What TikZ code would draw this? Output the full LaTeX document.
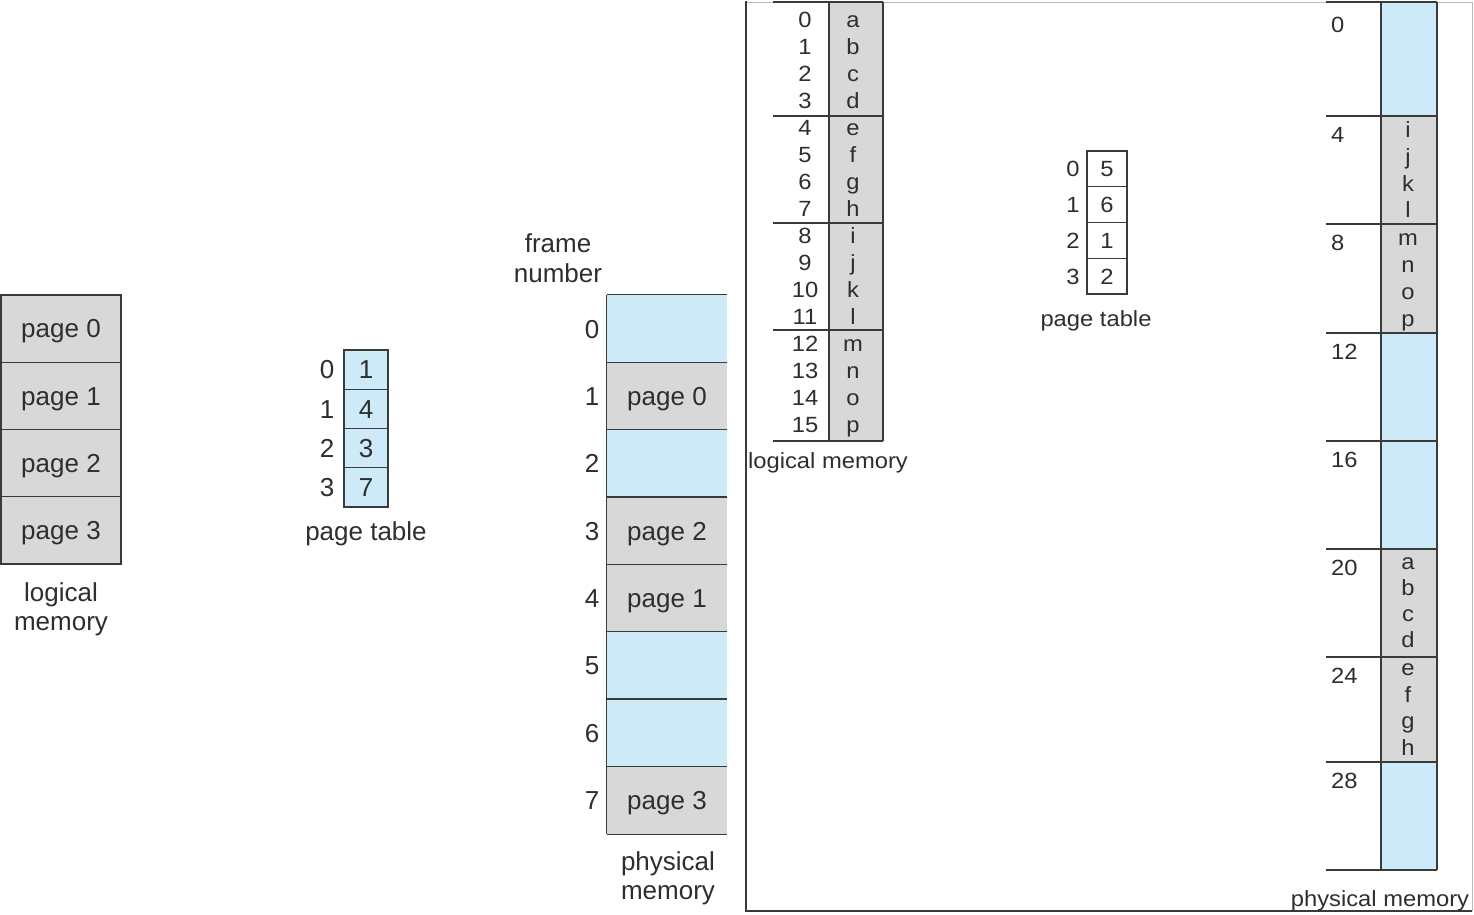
\documentclass[tikz,border=0pt]{standalone}
\usepackage{fontspec}
\setmainfont{Liberation Sans}
\newfontfamily\rfam[FakeStretch=1.08]{Liberation Sans}
\definecolor{gfill}{HTML}{D8D8D8}
\definecolor{bfill}{HTML}{CCEAF8}
\definecolor{lc}{HTML}{3A3A3A}
\definecolor{tc}{HTML}{2E2E2E}
\newcommand\lsz{\fontsize{26}{30}\selectfont}
\newcommand\rsz{\rfam\fontsize{22}{26}\selectfont}
\begin{document}
\begin{tikzpicture}[x=1pt,y=-1pt,
  lf/.style={font=\lsz,text height=18.6pt,text depth=0pt},
  rf/.style={font=\rsz,text height=15.75pt,text depth=0pt},
  cellbox/.style={draw=lc,line width=1.3pt,inner sep=0pt,text=tc},
  gcell/.style={cellbox,fill=gfill},
  bcell/.style={cellbox,fill=bfill},
  wcell/.style={cellbox,fill=white},
  labtxt/.style={inner sep=0pt,text=tc},
  captxt/.style={inner sep=0pt,text=tc,anchor=base},
  ruleln/.style={draw=lc,line width=1.3pt},
]
\useasboundingbox (0,0) rectangle (1474,914);
\fill[white] (0,0) rectangle (1474,914);

% ---------- left: logical memory ----------
\foreach \i/\t in {0/page 0,1/page 1,2/page 2,3/page 3}
  \node[gcell,lf,minimum width=120pt,minimum height=67.25pt] (lm\i) at (61,{328.6+67.25*\i}) {\t};
\node[captxt,font=\lsz] (lmcapa) at (61,601) {logical};
\node[captxt,font=\lsz] (lmcapb) at (61,630) {memory};

% ---------- left: page table ----------
\foreach \i/\v in {0/1,1/4,2/3,3/7} {
  \node[bcell,lf,minimum width=44pt,minimum height=39.25pt] (pt\i) at (366,{369.6+39.25*\i}) {\v};
  \node[labtxt,lf] (pti\i) at (327,{369.6+39.25*\i}) {\i};
}
\node[captxt,font=\lsz] (ptcap) at (366,540) {page table};

% ---------- left: physical memory ----------
\node[captxt,font=\lsz] (fna) at (558,252) {frame};
\node[captxt,font=\lsz] (fnb) at (558,282) {number};
\foreach \i/\c/\t in {0/bfill/,1/gfill/page 0,2/bfill/,3/gfill/page 2,4/gfill/page 1,5/bfill/,6/bfill/,7/gfill/page 3} {
  \node[labtxt,lf,fill=\c,minimum width=120pt,minimum height=67.375pt] (pm\i) at (667,{328.7+67.375*\i}) {\t};
  \node[labtxt,lf] (pmi\i) at (592,{328.7+67.375*\i}) {\i};
}
\draw[ruleln] (pm0.north west) -- (pm7.south west);
\foreach \i in {0,...,7} \draw[ruleln] (pm\i.north west) -- (pm\i.north east);
\draw[ruleln] (pm7.south west) -- (pm7.south east);
\node[captxt,font=\lsz] (pmcapa) at (668,870) {physical};
\node[captxt,font=\lsz] (pmcapb) at (668,899) {memory};

% ---------- right panel frame ----------
\draw[gray!55,line width=1pt] (746,2) -- (1472,2) -- (1472,911);
\draw[lc,line width=1.3pt] (746,1) -- (746,911) -- (1472,911);

% ---------- right: logical memory ----------
\fill[gfill] (829,2) rectangle (883,441);
\foreach \l [count=\k from 0] in {a,b,c,d,e,f,g,h,i,j,k,l,m,n,o,p} {
  \node[labtxt,rf] (rl\k) at (853,{20+27*\k}) {\l};
  \node[labtxt,rf] (rn\k) at (805,{20+27*\k}) {\k};
}
\draw[ruleln] (829,2) -- (829,441);
\draw[ruleln] (883,2) -- (883,441);
\foreach \b in {2,116,223,330,441} \draw[ruleln] (773,\b) -- (883,\b);
\node[captxt,font=\rsz] (rlcap) at (828,468) {logical memory};

% ---------- right: page table ----------
\foreach \i/\v in {0/5,1/6,2/1,3/2} {
  \node[wcell,rf,minimum width=40pt,minimum height=35.75pt] (rpt\i) at (1107,{168.9+35.75*\i}) {\v};
  \node[labtxt,rf] (rpti\i) at (1073,{168.9+35.75*\i}) {\i};
}
\node[captxt,font=\rsz] (rptcap) at (1096,326) {page table};

% ---------- right: physical memory ----------
\foreach \t/\u/\c in {2/116/bfill,116/224/gfill,224/333/gfill,333/441/bfill,441/549/bfill,549/657/gfill,657/762/gfill,762/870/bfill}
  \fill[\c] (1381,\t) rectangle (1437,\u);
\foreach \l [count=\k from 0] in {i,j,k,l} \node[labtxt,rf] (rp\l) at (1408,{130+26.6*\k}) {\l};
\foreach \l [count=\k from 0] in {m,n,o,p} \node[labtxt,rf] (rp\l) at (1408,{238+26.8*\k}) {\l};
\foreach \l [count=\k from 0] in {a,b,c,d} \node[labtxt,rf] (rp\l) at (1408,{562+26*\k}) {\l};
\foreach \l [count=\k from 0] in {e,f,g,h} \node[labtxt,rf] (rp\l) at (1408,{668+26.4*\k}) {\l};
\draw[ruleln] (1381,2) -- (1381,870);
\draw[ruleln] (1437,2) -- (1437,870);
\foreach \b in {2,116,224,333,441,549,657,762,870} \draw[ruleln] (1326,\b) -- (1437,\b);
\node[labtxt,rf,anchor=west] (ra0) at (1331,25) {0};
\foreach \n/\y in {4/135,8/243,12/352,16/460,20/568,24/676,28/781}
  \node[labtxt,rf,anchor=west] (ra\n) at (1331,\y) {\n};
\node[captxt,font=\rsz] (rpcap) at (1380,906) {physical memory};
\end{tikzpicture}
\end{document}
